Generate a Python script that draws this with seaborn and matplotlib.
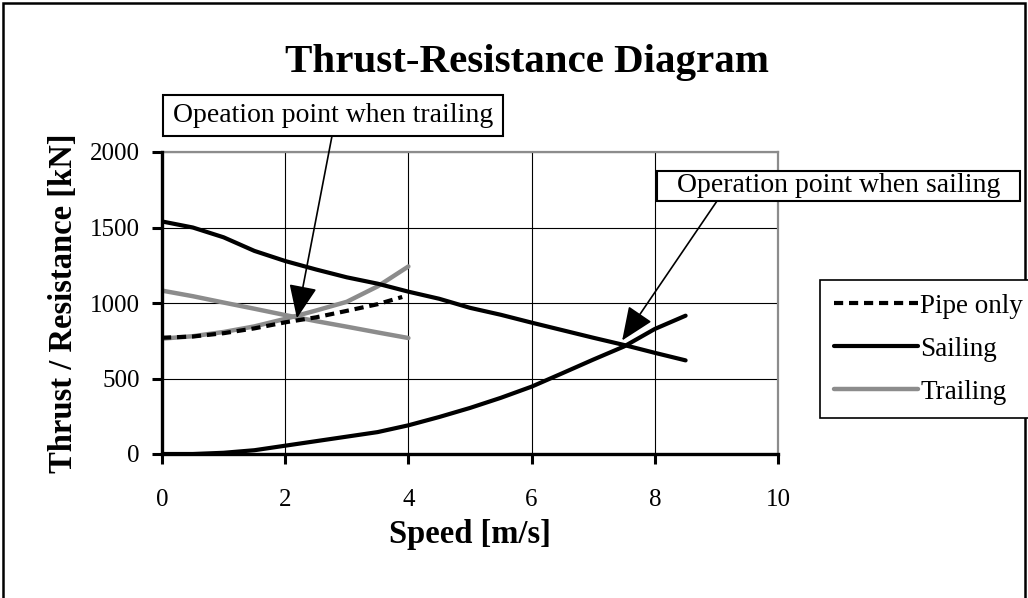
import matplotlib
matplotlib.use("Agg")
import matplotlib.pyplot as plt
from matplotlib.patches import Rectangle
import seaborn as sns
import pandas as pd

# Speed axis samples [m/s]
speed_trail = [0.0, 0.5, 1.0, 1.5, 2.0, 2.5, 3.0, 3.5, 4.0]
speed_pipe = [0.0, 0.5, 1.0, 1.5, 2.0, 2.5, 3.0, 3.5, 3.9]
speed_sail = [0.0, 0.5, 1.0, 1.5, 2.0, 2.5, 3.0, 3.5, 4.0, 4.5,
              5.0, 5.5, 6.0, 6.5, 7.0, 7.5, 8.0, 8.5]

# Forces [kN]
pipe_only = [770, 778, 800, 832, 872, 905, 948, 992, 1040]
sailing_thrust = [1540, 1500, 1435, 1345, 1278, 1222, 1170, 1128, 1075,
                  1028, 968, 922, 870, 820, 770, 722, 670, 620]
sailing_resist = [0, 0, 8, 25, 55, 85, 115, 145, 190, 245,
                  305, 372, 446, 535, 625, 712, 828, 916]
trailing_thrust = [1082, 1045, 1003, 962, 920, 880, 843, 805, 768]
trailing_resist = [764, 780, 808, 845, 895, 950, 1008, 1110, 1242]

x_ticks = [0, 2, 4, 6, 8, 10]
y_ticks = [0, 500, 1000, 1500, 2000]

sns.set_style("white")
plt.rcParams["font.family"] = ["Liberation Serif", "DejaVu Serif"]
plt.rcParams["text.color"] = "black"
plt.rcParams["axes.labelcolor"] = "black"

W, H = 1028, 598
fig = plt.figure(figsize=(W / 100, H / 100), dpi=100)
ax = fig.add_axes([162 / W, 1 - 454 / H, (778 - 162) / W, (454 - 152) / H])

black = "#000000"
gray = "#8c8c8c"

def frame(x, y, label):
    return pd.DataFrame({"speed": x, "force": y, "label": label})

sns.lineplot(data=frame(speed_pipe, pipe_only, "Pipe only"), x="speed", y="force",
             ax=ax, color=black, lw=3.0, label="Pipe only", zorder=4,
             estimator=None, sort=False)
ax.lines[-1].set_dashes((2.2, 1.4))
sns.lineplot(data=frame(speed_sail, sailing_thrust, "Sailing"), x="speed", y="force",
             ax=ax, color=black, lw=3.0, label="Sailing", zorder=5,
             estimator=None, sort=False)
sns.lineplot(data=frame(speed_sail, sailing_resist, "Sailing"), x="speed", y="force",
             ax=ax, color=black, lw=3.0, zorder=5, estimator=None, sort=False,
             legend=False)
sns.lineplot(data=frame(speed_trail, trailing_thrust, "Trailing"), x="speed", y="force",
             ax=ax, color=gray, lw=3.2, label="Trailing", zorder=3,
             estimator=None, sort=False)
sns.lineplot(data=frame(speed_trail, trailing_resist, "Trailing"), x="speed", y="force",
             ax=ax, color=gray, lw=3.2, zorder=3, estimator=None, sort=False,
             legend=False)

ax.set_xlim(0, 10)
ax.set_ylim(0, 2000)
ax.set_xticks(x_ticks)
ax.set_yticks(y_ticks)
ax.set_xticklabels([str(v) for v in x_ticks])
ax.set_yticklabels([str(v) for v in y_ticks])
ax.tick_params(axis="both", direction="out", length=7, width=2.2, color=black,
               labelsize=18, labelcolor=black, left=True, bottom=True)
ax.tick_params(axis="x", pad=18)
ax.tick_params(axis="y", pad=9)

ax.grid(True, color=black, lw=0.8)
ax.set_axisbelow(True)
for side in ("left", "bottom"):
    ax.spines[side].set_color(black)
    ax.spines[side].set_linewidth(2.4)
    ax.spines[side].set_zorder(6)
for side in ("top", "right"):
    ax.spines[side].set_color(gray)
    ax.spines[side].set_linewidth(1.6)

ax.set_xlabel("Speed [m/s]", fontsize=23.5, fontweight="bold", labelpad=6)
ax.set_ylabel("Thrust / Resistance [kN]", fontsize=23.5, fontweight="bold", labelpad=8)

fig.text(527 / W, 1 - 72 / H, "Thrust-Resistance Diagram", ha="center",
         va="baseline", fontsize=29.5, fontweight="bold", color=black)

# Legend at the right of the plot
ax.get_legend().remove()
handles, labels = ax.get_legend_handles_labels()
leg = fig.legend(handles, labels, loc="upper left",
                 bbox_to_anchor=(820 / W, 1 - 280 / H), fontsize=19.5,
                 frameon=True, fancybox=False, edgecolor=black, framealpha=1,
                 borderaxespad=0, handlelength=3.1, handletextpad=0.1,
                 labelspacing=0.67, borderpad=0.5)
leg.get_frame().set_linewidth(1.2)

# Callout boxes with arrows
def callout(text, box, tail, tip):
    x0, y0, x1, y1 = box
    fig.patches.append(Rectangle((x0 / W, 1 - y1 / H), (x1 - x0) / W, (y1 - y0) / H,
                                 transform=fig.transFigure, fill=True,
                                 facecolor="white", edgecolor=black, lw=1.5,
                                 zorder=10))
    fig.text((x0 + x1) / 2 / W, 1 - (y0 + y1) / 2 / H, text, ha="center",
             va="center", fontsize=20, zorder=11, color=black)
    ax.annotate("", xy=tip, xycoords="data",
                xytext=(tail[0] / W, 1 - tail[1] / H), textcoords="figure fraction",
                arrowprops=dict(arrowstyle="-|>,head_length=1.3,head_width=0.55",
                                color=black, lw=1.2, mutation_scale=16,
                                shrinkA=0, shrinkB=0),
                zorder=9, annotation_clip=False)

callout("Opeation point when trailing", (163, 95, 503, 136), (332, 136), (2.19, 899))
callout("Operation point when sailing", (657, 171, 1020, 201), (717, 201), (7.47, 752))

# Outer frame of the figure
fig.patches.append(Rectangle((3 / W, -0.02), (1025 - 3) / W, 1.02 - 3 / H,
                             transform=fig.transFigure, fill=False,
                             edgecolor=black, lw=1.8, zorder=0))

fig.savefig("out.png", dpi=100)
